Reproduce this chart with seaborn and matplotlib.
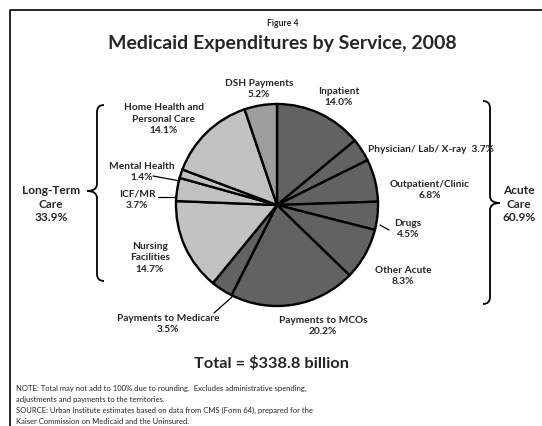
import numpy as np
import matplotlib
matplotlib.use("Agg")
from matplotlib import pyplot as plt
from matplotlib.path import Path
from matplotlib.patches import PathPatch
import seaborn as sns

# slices, clockwise from 12 o'clock
labels = ['Inpatient\n14.0%', 'Physician/ Lab/ X-ray  3.7%', 'Outpatient/Clinic\n6.8%',
          'Drugs\n4.5%', 'Other Acute\n8.3%', 'Payments to MCOs\n20.2%',
          'Payments to Medicare\n3.5%', 'Nursing\nFacilities\n14.7%', 'ICF/MR\n3.7%',
          'Mental Health\n1.4%', 'Home Health and\nPersonal Care\n14.1%', 'DSH Payments\n5.2%']
shares = [14.0, 3.7, 6.8, 4.5, 8.3, 20.2, 3.5, 14.7, 3.7, 1.4, 14.1, 5.2]
groups = ['acute'] * 7 + ['ltc'] * 4 + ['dsh']
group_labels = {'ltc': 'Long-Term\nCare\n33.9%', 'acute': 'Acute\nCare\n60.9%'}
total_label = 'Total = $338.8 billion'

# label centres in pixels (x, y from top)
label_pos = [(339, 97), (431, 149), (430, 190), (408, 229), (403, 276), (323, 326),
             (168, 324), (150, 258), (137, 200), (142, 172), (164, 119), (259, 89)]
leaders = [((153, 176), (180, 181)), ((158, 197), (177, 197)),
           ((380, 225), (389, 230)), ((214, 313), (232, 297))]

colors = {'acute': '#626262', 'ltc': '#c2c2c2', 'dsh': '#9d9d9d'}

sns.set_theme(style='white')
plt.rcParams['font.family'] = ['Lato', 'DejaVu Sans']

W, H = 542, 426
fig = plt.figure(figsize=(W / 100, H / 100), dpi=100)
fig.patch.set_facecolor('white')

# overlay in pixel coordinates
ov = fig.add_axes([0, 0, 1, 1])
ov.set_xlim(0, W)
ov.set_ylim(H, 0)
ov.axis('off')
ov.patch.set_facecolor('none')

# pie
cx, cy, r = 277, 205, 101
pax = fig.add_axes([(cx - r) / W, 1 - (cy + r) / H, 2 * r / W, 2 * r / H])
pax.pie(shares, colors=[colors[g] for g in groups], startangle=90, counterclock=False,
        wedgeprops=dict(edgecolor='black', linewidth=1.7, clip_on=False))
pax.set_xlim(-1, 1)
pax.set_ylim(-1, 1)
pax.set_aspect('auto')
pax.axis('off')

# frame
ov.plot([10, 10, W + 5], [H + 5, 10, 10], color='black', lw=1.2, clip_on=False)

ov.text(283, 23, 'Figure 4', ha='center', va='center', fontsize=6.2, fontweight='bold')
ov.text(282, 44, 'Medicaid Expenditures by Service, 2008', ha='center', va='center',
        fontsize=14, fontweight='bold')

for lab, (x, y) in zip(labels, label_pos):
    ov.text(x, y, lab, ha='center', va='center', fontsize=7.3, fontweight='bold',
            linespacing=1.35)

for (x0, y0), (x1, y1) in leaders:
    ov.plot([x0, x1], [y0, y1], color='black', lw=0.9)


def brace(x, y0, y1, ytip, side, d=7, t=10):
    # side=-1 opens to the left ("{"), side=1 to the right ("}")
    s = side
    verts = [(x - s * d, y0), (x, y0), (x, y0 + d),
             (x, ytip - d), (x, ytip), (x + s * t, ytip),
             (x, ytip), (x, ytip + d),
             (x, y1 - d), (x, y1), (x - s * d, y1)]
    codes = [Path.MOVETO, Path.CURVE3, Path.CURVE3,
             Path.LINETO, Path.CURVE3, Path.CURVE3,
             Path.CURVE3, Path.CURVE3,
             Path.LINETO, Path.CURVE3, Path.CURVE3]
    ov.add_patch(PathPatch(Path(verts, codes), fill=False, edgecolor='black', lw=1.3))


brace(97, 105, 281, 191, -1)
brace(490, 101, 304, 203, 1)

ov.text(51, 204, group_labels['ltc'], ha='center', va='center', fontsize=8.6,
        fontweight='bold', linespacing=1.25)
ov.text(519, 204, group_labels['acute'], ha='center', va='center', fontsize=8.6,
        fontweight='bold', linespacing=1.25)

ov.text(272, 363, total_label, ha='center', va='center', fontsize=11.8, fontweight='bold')

notes = ['NOTE: Total may not add to 100% due to rounding.  Excludes administrative spending,',
         'adjustments and payments to the territories.',
         'SOURCE: Urban Institute estimates based on data from CMS (Form 64), prepared for the',
         'Kaiser Commission on Medicaid and the Uninsured.']
for i, line in enumerate(notes):
    ov.text(16, 388 + i * 11.3, line, ha='left', va='center', fontsize=5.5)

fig.savefig('out.png', dpi=100)
